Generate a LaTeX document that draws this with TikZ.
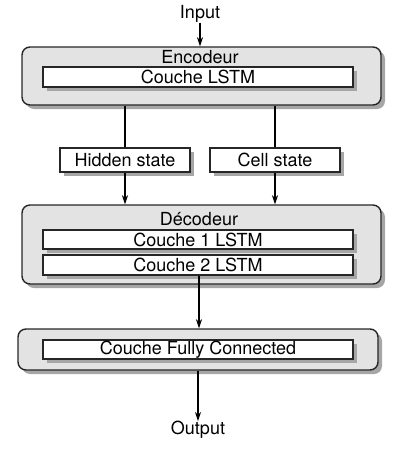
\documentclass[tikz,border=0pt]{standalone}
\usepackage{fontspec}
\setmainfont{TeX Gyre Heros}
\usetikzlibrary{shadows,arrows.meta}
\begin{document}
\begin{tikzpicture}[x=1pt,y=-1pt,
  every node/.style={font=\fontsize{18}{21}\selectfont, inner sep=0pt},
  outerbox/.style={draw=black!85, line width=1.4pt, rounded corners=8pt, fill=gray!22,
     drop shadow={shadow xshift=4pt, shadow yshift=-4pt, fill=gray!70, opacity=1}},
  innerbox/.style={draw=black!85, line width=1.3pt, fill=white,
     drop shadow={shadow xshift=3.5pt, shadow yshift=-3.5pt, fill=gray!70, opacity=1}},
  conn/.style={line width=1.3pt, draw=black},
  arr/.style={conn, -{Stealth[length=9pt,width=6pt,inset=2.5pt]}}
]
\useasboundingbox (0,0) rectangle (401,461);

\node (input) at (200,14) {Input};
\node (output) at (198,430) {Output};

\node[outerbox, minimum width=359pt, minimum height=58pt] (enc) at (201.5,76) {};
\node (enclab) at (200,57) {Encodeur};
\node[innerbox, minimum width=310pt, minimum height=20pt] (lstm) at (198,77) {Couche LSTM};

\node[innerbox, minimum width=130pt, minimum height=24pt] (hid) at (125,160) {Hidden state};
\node[innerbox, minimum width=130pt, minimum height=24pt] (cell) at (275,160) {Cell state};

\node[outerbox, minimum width=359pt, minimum height=79pt] (dec) at (201.5,244.5) {};
\node (declab) at (199,219) {Décodeur};
\node[innerbox, minimum width=310pt, minimum height=19pt] (l1) at (198,239.5) {Couche 1 LSTM};
\node[innerbox, minimum width=310pt, minimum height=20pt] (l2) at (198,265) {Couche 2 LSTM};

\node[outerbox, minimum width=360pt, minimum height=41pt] (fco) at (198,349.5) {};
\node[innerbox, minimum width=310pt, minimum height=19pt] (fc) at (198,349.5) {Couche Fully Connected};

\draw[arr] (input.south) -- (input.south |- enc.north);
\draw[conn] (enc.south -| hid.north) -- (hid.north);
\draw[conn] (enc.south -| cell.north) -- (cell.north);
\draw[arr] (hid.south) -- (hid.south |- dec.north);
\draw[arr] (cell.south) -- (cell.south |- dec.north);
\draw[arr] ([xshift=1pt]l2.south) -- ([xshift=1pt]l2.south |- fco.north);
\draw[arr] (fco.south) -- (output.north);
\end{tikzpicture}
\end{document}
